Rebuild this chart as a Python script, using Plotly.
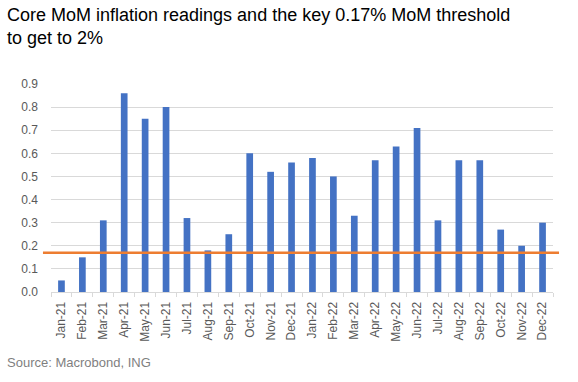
import plotly.graph_objects as go

months = ["Jan-21", "Feb-21", "Mar-21", "Apr-21", "May-21", "Jun-21", "Jul-21", "Aug-21",
          "Sep-21", "Oct-21", "Nov-21", "Dec-21", "Jan-22", "Feb-22", "Mar-22", "Apr-22",
          "May-22", "Jun-22", "Jul-22", "Aug-22", "Sep-22", "Oct-22", "Nov-22", "Dec-22"]
core_mom = [0.05, 0.15, 0.31, 0.86, 0.75, 0.80, 0.32, 0.18, 0.25, 0.60, 0.52, 0.56,
            0.58, 0.50, 0.33, 0.57, 0.63, 0.71, 0.31, 0.57, 0.57, 0.27, 0.20, 0.30]
threshold = 0.17
y_ticks = [0.0, 0.1, 0.2, 0.3, 0.4, 0.5, 0.6, 0.7, 0.8, 0.9]

fig = go.Figure()
fig.add_trace(go.Bar(x=months, y=core_mom, marker_color="#4472C4", width=0.32,
                     marker_line_width=0, showlegend=False))

fig.add_shape(type="line", xref="paper", yref="y", x0=-0.016, x1=1.012,
              y0=threshold, y1=threshold, line=dict(color="#ED7D31", width=2.5), layer="above")

fig.update_layout(
    width=578, height=382,
    margin=dict(l=51, r=25, t=84, b=90, autoexpand=False),
    paper_bgcolor="white", plot_bgcolor="white",
    font=dict(family="Liberation Sans, Arial, sans-serif", color="#595959", size=12),
    bargap=0.68,
)
fig.update_yaxes(range=[0, 0.9], tickvals=y_ticks, tickformat=".1f", showgrid=True,
                 gridcolor="#D9D9D9", gridwidth=1, zeroline=False, showline=False,
                 ticks="", ticklabelstandoff=12, automargin=False)
fig.update_xaxes(type="category", tickangle=-90, showgrid=False, showline=True,
                 linecolor="#D9D9D9", linewidth=1, ticks="outside", tickson="boundaries",
                 ticklen=4, tickcolor="#D9D9D9", ticklabelstandoff=4, automargin=False)

fig.add_annotation(text="Core MoM inflation readings and the key 0.17% MoM threshold<br>to get to 2%",
                   xref="paper", yref="paper", x=-0.092, y=1.0, yshift=81, xanchor="left",
                   yanchor="top", align="left", showarrow=False,
                   font=dict(size=18, color="#000000"))

fig.add_annotation(text="Source: Macrobond, ING", xref="paper", yref="paper",
                   x=-0.092, y=0, yshift=-70, xanchor="left", yanchor="middle", showarrow=False,
                   font=dict(size=13, color="#7F7F7F"))

fig.write_html("out.html", config={"displayModeBar": False},
               post_script="document.body.style.margin='0';document.body.style.padding='0';")
